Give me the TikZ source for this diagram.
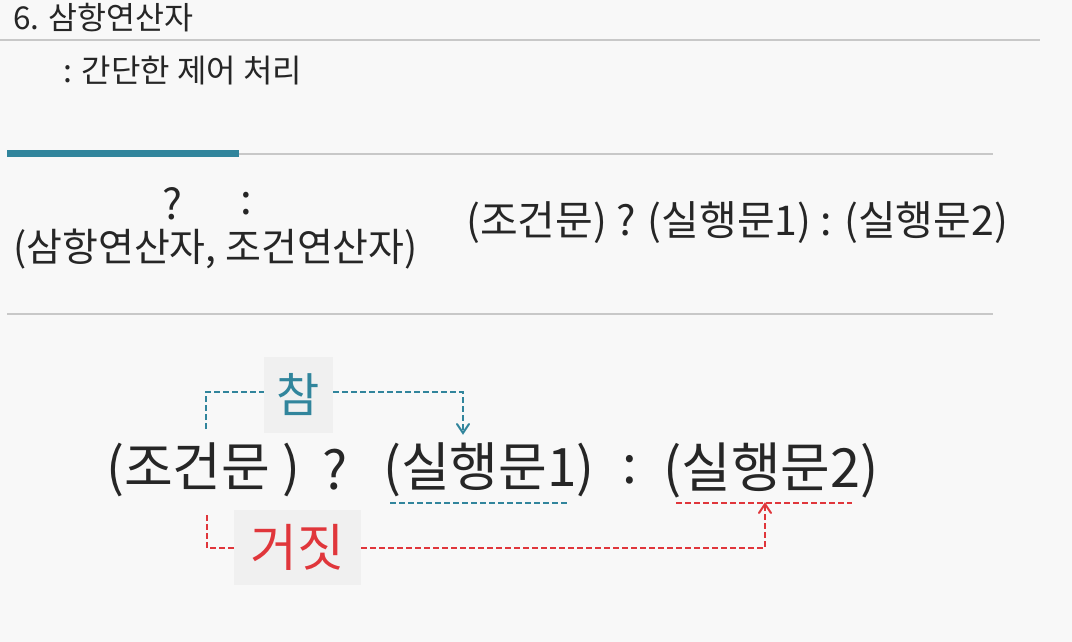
\documentclass[tikz,border=0pt]{standalone}
\usepackage{fontspec}
\setmainfont{Noto Sans CJK KR}
\usetikzlibrary{arrows.meta}
\definecolor{bg}{HTML}{F8F8F8}
\definecolor{txt}{HTML}{262626}
\definecolor{tealc}{HTML}{31859C}
\definecolor{redc}{HTML}{E0363B}
\definecolor{rule}{HTML}{C8C8C8}
\definecolor{boxbg}{HTML}{F0F0F0}
\tikzset{
  lbl/.style={inner sep=0pt, text=txt},
  fs/.style={font=\fontsize{#1}{#1}\selectfont},
  dsh/.style={line width=1.6pt, dash pattern=on 6pt off 3pt},
  hbox/.style={fill=boxbg, inner sep=0pt},
  chev/.style={line width=2pt, solid, line cap=round, line join=miter},
}
\begin{document}
\begin{tikzpicture}[x=1pt,y=-1pt]
\fill[bg] (0,0) rectangle (1072,642);
\useasboundingbox (0,0) rectangle (1072,642);
% header
\node[lbl,fs=31.5,anchor=west] (title) at (13,18) {6. 삼항연산자};
\draw[rule,line width=2pt] (0,40) -- (1040,40);
\node[lbl,fs=32,anchor=west] (sub) at (63,71) {: 간단한 제어 처리};
% bar
\draw[tealc,line width=7pt] (7,153) -- (239,153);
\draw[rule,line width=2pt] (239,154) -- (993,154);
% middle
\node[lbl,fs=42] (q0) at (172,204) {?};
\node[lbl,fs=42] (c0) at (246,204) {:};
\node[lbl,fs=39,anchor=west] (name) at (13,249) {(삼항연산자, 조건연산자)};
\node[lbl,fs=41,anchor=west] (syn) at (466,223) {(조건문) ? (실행문1) : (실행문2)};
\draw[rule,line width=2pt] (7,314) -- (993,314);
% big expression
\node[lbl,fs=53,anchor=west] (cond) at (106,470) {(조건문 )};
\node[lbl,fs=53] (q) at (335,470) {?};
\node[lbl,fs=53,anchor=west] (s1) at (383,470) {(실행문1)};
\node[lbl,fs=53] (col) at (630,470) {:};
\node[lbl,fs=54,anchor=west] (s2) at (663,470) {(실행문2)};
% true / false boxes
\node[hbox,minimum width=69pt,minimum height=76pt] (tbox) at (298.5,395) {};
\node[inner sep=0pt,fs=47,text=tealc] (true) at (tbox) {참};
\node[hbox,minimum width=127pt,minimum height=75pt] (fbox) at (297.5,547.5) {};
\node[inner sep=0pt,fs=51,text=redc] (false) at (fbox) {거짓};
% coordinates
\coordinate (ts) at (206,429);
\coordinate (te) at (463,433);
\coordinate (u1a) at (390,503);
\coordinate (u1b) at (567,503);
\coordinate (u2a) at (676,503);
\coordinate (u2b) at (852,503);
\coordinate (fs0) at (207,515);
\coordinate (fe) at (765,504);
% connectors
\draw[tealc,dsh] (ts) |- (tbox.west |- 0,392);
\draw[tealc,dsh] (tbox.east |- 0,392) -| (te);
\draw[tealc,chev] ([shift={(-6,-9)}]te) -- (te) -- ([shift={(6,-9)}]te);
\draw[tealc,dsh] (u1a) -- (u1b);
\draw[redc,dsh] (u2a) -- (u2b);
\draw[redc,dsh] (fs0) |- (fbox.west |- 0,548);
\draw[redc,dsh] (fbox.east |- 0,548) -| (fe);
\draw[redc,chev] ([shift={(-6,9)}]fe) -- (fe) -- ([shift={(6,9)}]fe);
\end{tikzpicture}
\end{document}
